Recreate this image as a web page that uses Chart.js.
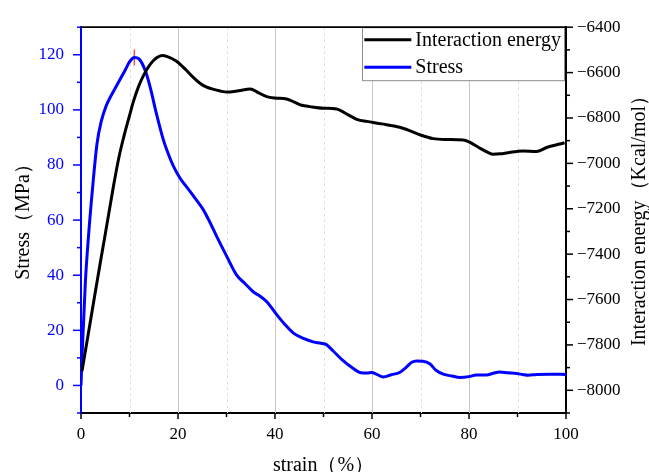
<!DOCTYPE html>
<html>
<head>
<meta charset="utf-8">
<script src="https://cdn.jsdelivr.net/npm/chart.js@4"></script>
<style>
html, body { margin: 0; padding: 0; background: #fff; }
</style>
</head>
<body>
<canvas id="myChart" width="649" height="472"></canvas>
<script>
// D O N N E E S - - - - - - - - - - - - - - - - - - - - - - - - - - - -
let stressStrain = [0, 0.2, 0.9, 1.6, 2.3, 3.3, 4.2, 5.2, 6.1, 7.1, 8.1, 9.1, 10, 11, 12, 13.3, 14.3, 15.5, 17, 18, 19.1, 20.5,
    21.8, 23.5, 25.2, 26.5, 28, 30, 32.1, 33.8, 35.5, 37, 38.3, 40.4, 42, 43.8, 46, 47.9, 49.5, 50.6, 52, 54.1,
    56, 57.5, 59, 59.9, 61, 62.3, 64, 65.7, 67, 68.2, 69.2, 70.5, 71.9, 73.2, 74.7, 76.5, 78.1, 80, 81.5, 83.6,
    85, 86.3, 88, 89.8, 91, 92.2, 94, 96.6, 100];
let stressValues = [0, 10, 37.5, 55.4, 70, 87.7, 96, 101.5, 104.8, 108, 111.2, 114.4, 117.4, 119, 118.4, 114, 108, 99, 89, 84, 79.4, 75,
    72, 68, 63.8, 59.5, 54, 47, 40, 37, 34, 32.3, 30.4, 25.6, 22.2, 19, 17, 15.8, 15.3, 14.8, 12.5, 8.9,
    6.3, 4.7, 4.5, 4.7, 4, 3.1, 3.9, 4.7, 6.5, 8.4, 8.9, 8.8, 7.9, 5.5, 4.1, 3.4, 2.9, 3.2, 3.8, 3.8,
    4.4, 4.9, 4.6, 4.3, 4, 3.7, 4, 4.1, 4];

let energyStrain = [0.2, 2, 4, 5.5, 6.7, 7.8, 8.8, 10, 10.8, 11.8, 12.9, 14.3, 15.6, 16.7, 17.8, 19.7, 21.5, 23.2, 24.6, 25.8, 27, 28.7,
    30, 32.5, 34.9, 36.5, 38.3, 40, 42.4, 44, 45.5, 47.2, 50, 52.7, 55, 57, 58.9, 62, 65.7, 68, 70, 72.6,
    75, 78.8, 80, 82, 84, 84.9, 86.5, 88, 91.1, 93.9, 96, 99.7];
let energyValues = [-7916, -7688, -7435, -7250, -7100, -6975, -6885, -6790, -6728, -6665, -6612, -6563, -6535, -6525, -6530, -6550, -6585, -6622, -6648, -6663, -6672, -6681,
    -6686, -6680, -6672, -6688, -6706, -6712, -6716, -6730, -6744, -6750, -6757, -6760, -6785, -6807, -6815, -6826, -6841, -6858, -6875, -6891,
    -6895, -6897, -6905, -6930, -6953, -6960, -6958, -6953, -6945, -6948, -6930, -6909];

let peakStrain = [11];
let peakStress = [119];

let seriesNames = ["Interaction energy", "Stress"];

// O U T I L S - - - - - - - - - - - - - - - - - - - - - - - - - - - - -
let serif = "'Liberation Serif', 'Times New Roman', serif";
let blue = "#0000ff";

function toPoints(xs, ys) {
    return xs.map(function(v, i) { return { x: v, y: ys[i] }; });
}

// petits traits de graduation, titres des axes, cadre et legende
let decor = {
    id: "decor",
    beforeDraw: function(chart) {
        let ctx = chart.ctx;
        ctx.save();
        ctx.fillStyle = "#fff";
        ctx.fillRect(0, 0, chart.width, chart.height);
        ctx.restore();
    },
    beforeDatasetsDraw: function(chart) {
        let ctx = chart.ctx, a = chart.chartArea, x = chart.scales.x;
        ctx.save();
        x.ticks.forEach(function(t) {
            if (t.value <= 0 || t.value >= 100) return;
            let px = Math.round(x.getPixelForValue(t.value)) + 0.5;
            let major = t.value % 20 === 0;
            ctx.strokeStyle = major ? "#c8c8c8" : "#dedede";
            ctx.lineWidth = 1;
            ctx.setLineDash(major ? [] : [3, 3]);
            ctx.beginPath();
            ctx.moveTo(px, a.top);
            ctx.lineTo(px, a.bottom);
            ctx.stroke();
        });
        ctx.restore();
    },
    afterDraw: function(chart) {
        let ctx = chart.ctx, a = chart.chartArea;
        let sx = chart.scales.x, sy = chart.scales.y, sy2 = chart.scales.y2;
        ctx.save();

        // cadre du haut
        ctx.strokeStyle = "#000";
        ctx.lineWidth = 1.5;
        ctx.beginPath();
        ctx.moveTo(a.left, a.top);
        ctx.lineTo(a.right, a.top);
        ctx.stroke();

        // graduations
        ctx.lineWidth = 1.5;
        sx.ticks.forEach(function(t) {
            let px = sx.getPixelForValue(t.value);
            let len = t.value % 20 === 0 ? 6 : 4;
            ctx.strokeStyle = "#000";
            ctx.beginPath();
            ctx.moveTo(px, a.bottom);
            ctx.lineTo(px, a.bottom + len);
            ctx.stroke();
        });
        sy.ticks.forEach(function(t) {
            let py = sy.getPixelForValue(t.value);
            let len = t.label !== "" ? 8 : 4;
            ctx.strokeStyle = blue;
            ctx.beginPath();
            ctx.moveTo(a.left, py);
            ctx.lineTo(a.left - len, py);
            ctx.stroke();
        });
        sy2.ticks.forEach(function(t) {
            let py = sy2.getPixelForValue(t.value);
            let len = t.label !== "" ? 7 : 4;
            ctx.strokeStyle = "#000";
            ctx.beginPath();
            ctx.moveTo(a.right, py);
            ctx.lineTo(a.right + len, py);
            ctx.stroke();
        });

        // titres des axes
        ctx.fillStyle = "#000";
        ctx.font = "20px " + serif;
        ctx.textAlign = "center";
        ctx.textBaseline = "alphabetic";
        ctx.fillText("strain（%）", (a.left + a.right) / 2, 471);

        ctx.save();
        ctx.translate(29, 217);
        ctx.rotate(-Math.PI / 2);
        ctx.fillText("Stress（MPa）", 0, 0);
        ctx.restore();

        ctx.save();
        ctx.translate(645, 216);
        ctx.rotate(-Math.PI / 2);
        ctx.fillText("Interaction energy（Kcal/mol）", 0, 0);
        ctx.restore();

        // legende
        let sets = chart.data.datasets.filter(function(d) { return d.label; });
        ctx.font = "20px " + serif;
        let textW = Math.max.apply(null, sets.map(function(d) { return ctx.measureText(d.label).width; }));
        let boxR = a.right - 2, boxL = boxR - (2 + 47 + 4 + textW + 3), boxT = a.top, boxB = a.top + 53;
        ctx.fillStyle = "#fff";
        ctx.fillRect(boxL, boxT, boxR - boxL, boxB - boxT);
        ctx.strokeStyle = "#8c8c8c";
        ctx.lineWidth = 1;
        ctx.strokeRect(Math.round(boxL) + 0.5, boxT + 0.5, Math.round(boxR - boxL), boxB - boxT);
        ctx.textAlign = "left";
        ctx.textBaseline = "middle";
        sets.forEach(function(d, i) {
            let cy = boxT + 12.5 + i * 27.5;
            ctx.strokeStyle = d.borderColor;
            ctx.lineWidth = 3;
            ctx.beginPath();
            ctx.moveTo(boxL + 2, cy);
            ctx.lineTo(boxL + 49, cy);
            ctx.stroke();
            ctx.fillStyle = "#000";
            ctx.fillText(d.label, boxL + 53, cy + 1);
        });

        // re-trace du haut du cadre par-dessus la legende
        ctx.strokeStyle = "#000";
        ctx.lineWidth = 1.5;
        ctx.beginPath();
        ctx.moveTo(a.left, a.top);
        ctx.lineTo(a.right, a.top);
        ctx.stroke();

        ctx.restore();
    }
};

// G R A P H I Q U E - - - - - - - - - - - - - - - - - - - - - - - - - - -
new Chart(document.getElementById("myChart"), {
    type: "line",
    data: {
        datasets: [
            {
                label: seriesNames[0],
                data: toPoints(energyStrain, energyValues),
                yAxisID: "y2",
                borderColor: "#000",
                borderWidth: 3,
                pointRadius: 0,
                cubicInterpolationMode: "monotone",
                fill: false
            },
            {
                label: seriesNames[1],
                data: toPoints(stressStrain, stressValues),
                yAxisID: "y",
                borderColor: blue,
                borderWidth: 3,
                pointRadius: 0,
                cubicInterpolationMode: "monotone",
                fill: false
            },
            {
                label: "",
                data: toPoints(peakStrain, peakStress),
                yAxisID: "y",
                showLine: false,
                pointStyle: "line",
                rotation: 90,
                pointRadius: 8,
                borderColor: "#f05050",
                pointBorderColor: "#f05050",
                pointBorderWidth: 1.5
            }
        ]
    },
    options: {
        responsive: false,
        animation: false,
        devicePixelRatio: 1,
        layout: { padding: { top: 21, left: 0, right: 0, bottom: 0 } },
        plugins: {
            legend: { display: false },
            tooltip: { enabled: false }
        },
        scales: {
            x: {
                type: "linear",
                min: 0,
                max: 100,
                afterFit: function(scale) { scale.height = 59; },
                ticks: {
                    stepSize: 10,
                    autoSkip: false,
                    maxRotation: 0,
                    padding: 11,
                    color: "#000",
                    font: { family: serif, size: 17 },
                    callback: function(v) { return v % 20 === 0 ? String(v) : ""; }
                },
                grid: { drawOnChartArea: false, drawTicks: false },
                border: { display: true, color: "#000", width: 2 }
            },
            y: {
                position: "left",
                min: -10,
                max: 130,
                afterFit: function(scale) { scale.width = 81; },
                ticks: {
                    stepSize: 10,
                    autoSkip: false,
                    padding: 17,
                    color: blue,
                    font: { family: serif, size: 17 },
                    callback: function(v) { return (v % 20 === 0 && v >= 0 && v <= 120) ? String(v) : ""; }
                },
                grid: { drawOnChartArea: false, drawTicks: false },
                border: { display: true, color: blue, width: 2 }
            },
            y2: {
                position: "right",
                min: -8100,
                max: -6400,
                afterFit: function(scale) { scale.width = 83; },
                ticks: {
                    stepSize: 100,
                    autoSkip: false,
                    padding: 11,
                    color: "#000",
                    font: { family: serif, size: 17 },
                    callback: function(v) { return v % 200 === 0 ? "\u2212" + Math.abs(v) : ""; }
                },
                grid: { drawOnChartArea: false, drawTicks: false },
                border: { display: true, color: "#000", width: 2 }
            }
        }
    },
    plugins: [decor]
});
</script>
</body>
</html>
